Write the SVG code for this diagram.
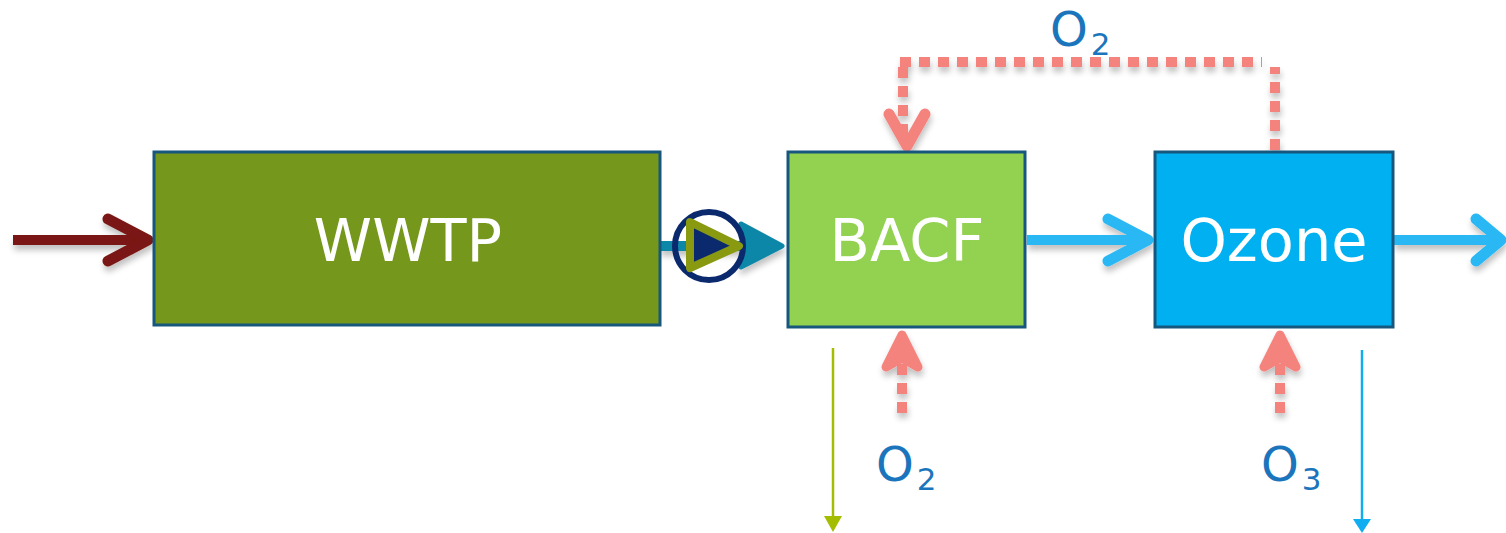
<svg xmlns="http://www.w3.org/2000/svg" width="1506" height="533" viewBox="0 0 1506 533">
<defs>
<filter id="shadow" x="-20%" y="-20%" width="140%" height="140%">
<feGaussianBlur in="SourceAlpha" stdDeviation="3"/>
<feOffset dx="1" dy="5"/>
<feComponentTransfer><feFuncA type="linear" slope="0.25"/></feComponentTransfer>
<feMerge><feMergeNode/><feMergeNode in="SourceGraphic"/></feMerge>
</filter>
<filter id="soft" x="-5%" y="-5%" width="110%" height="110%"><feGaussianBlur stdDeviation="0.6"/></filter>
</defs>
<style>
.box{stroke:#17577e;stroke-width:3}
.lbl{font-family:"DejaVu Sans",sans-serif;font-size:59px;fill:#fff;text-anchor:middle}
.o{font-family:"DejaVu Sans",sans-serif;font-size:48px;fill:#1b75bc}
.sub{font-size:31px}
.head{fill:none;stroke-width:11;stroke-linecap:round;stroke-linejoin:round}
.up{fill:#f4827d;stroke:#f4827d;stroke-width:9;stroke-linejoin:round}
.blue{fill:none;stroke:#2bb8f5;stroke-width:10}
.salmon{fill:none;stroke:#f4827d;stroke-width:10}
.dash{stroke-dasharray:11 8}
</style>
<rect width="1506" height="533" fill="#fff"/>
<g id="connectors">
<g filter="url(#shadow)">
<path d="M13 240H148" fill="none" stroke="#7a1712" stroke-width="10"/>
<path d="M108 219L148 240L108 261" class="head" stroke="#7a1712"/>
<path d="M660 246H750" fill="none" stroke="#0e87a8" stroke-width="10"/>
<path d="M741 224L782 246L741 267L750 246Z" fill="#0e87a8" stroke="#0e87a8" stroke-width="5" stroke-linejoin="round"/>
<path d="M1027 240H1148" class="blue"/>
<path d="M1108 219L1148 240L1108 261" class="head" stroke="#2bb8f5"/>
<path d="M1394 240H1500" class="blue"/>
<path d="M1476 219L1501 240L1476 261" class="head" stroke="#2bb8f5"/>
<path d="M900 62H1262" class="salmon dash"/>
<path d="M1275 150V67" class="salmon dash"/>
<path d="M903 67V140" class="salmon dash"/>
<path d="M889 114L907 146L925 114" class="head" stroke="#f4827d"/>
<path d="M902 413V355" class="salmon dash"/>
<path d="M886 367L902 335L918 367L902 358Z" class="up"/>
<path d="M1280 413V355" class="salmon dash"/>
<path d="M1264 367L1280 335L1296 367L1280 358Z" class="up"/>
</g>
<path d="M833 348V518" stroke="#a4bd00" stroke-width="2.500" fill="none"/>
<path d="M824 516H842L833 532Z" fill="#a4bd00"/>
<path d="M1362 350V520" stroke="#10aef0" stroke-width="2.500" fill="none"/>
<path d="M1353 519H1371L1362 533Z" fill="#10aef0"/>
</g>
<g id="wwtp"><rect class="box" x="154" y="152" width="506" height="173" fill="#75971c"/><text class="lbl" filter="url(#soft)" x="408" y="261">WWTP</text></g>
<g id="pump"><circle cx="709" cy="246" r="34" fill="none" stroke="#0b2a6e" stroke-width="6"/><path d="M690 222L739 246L690 268Z" fill="#0b2a6e" stroke="#8a9a10" stroke-width="8" stroke-linejoin="round"/></g>
<g id="bacf"><rect class="box" x="788" y="152" width="237" height="175" fill="#92d250"/><text class="lbl" filter="url(#soft)" x="907" y="261">BACF</text></g>
<g id="ozone"><rect class="box" x="1155" y="152" width="238" height="175" fill="#00b0f0"/><text class="lbl" filter="url(#soft)" x="1274" y="261">Ozone</text></g>
<g id="o2-top"><text class="o" x="1050" y="46">O<tspan class="sub" dx="3" dy="9">2</tspan></text></g>
<g id="o2-bottom"><text class="o" x="876" y="481">O<tspan class="sub" dx="3" dy="9">2</tspan></text></g>
<g id="o3-bottom"><text class="o" x="1261" y="481">O<tspan class="sub" dx="3" dy="9">3</tspan></text></g>
</svg>
